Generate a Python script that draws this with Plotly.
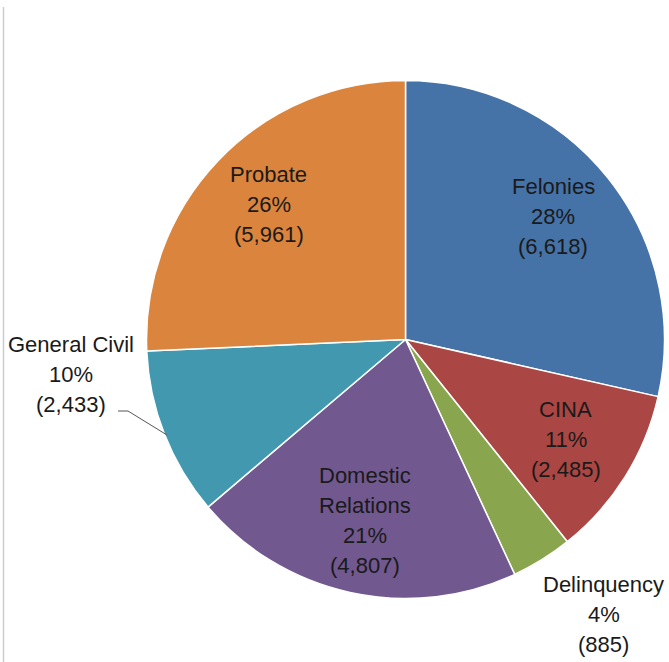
import math
import plotly.graph_objects as go

categories = ["Felonies", "CINA", "Delinquency", "Domestic Relations", "General Civil", "Probate"]
values = [6618, 2485, 885, 4807, 2433, 5961]
percents = [28, 11, 4, 21, 10, 26]
colors = ["#4572A7", "#AA4643", "#89A54E", "#71588F", "#4198AF", "#DB843D"]
label_lines = [["Felonies"], ["CINA"], ["Delinquency"], ["Domestic", "Relations"], ["General Civil"], ["Probate"]]

W, H = 669, 662
cx, cy, R = 405.5, 339.5, 259
LINE = 30

fig = go.Figure(go.Pie(
    labels=categories, values=values, sort=False, direction="clockwise", rotation=0,
    marker=dict(colors=colors, line=dict(color="white", width=1.5)),
    textinfo="none", hoverinfo="label+value+percent", showlegend=False,
    domain=dict(x=[(cx - R) / W, (cx + R) / W], y=[(H - cy - R) / H, (H - cy + R) / H]),
))

total = sum(values)
outside = {"Delinquency": (198, 275), "General Civil": (-335, 35)}
nudge = {"Felonies": -5, "Probate": -4, "Domestic Relations": -4}
cum = 0
for name, lines, pct, v in zip(categories, label_lines, percents, values):
    mid = (cum + v / 2) / total * 2 * math.pi
    cum += v
    if name in outside:
        dx, dy = outside[name]
    else:
        r = 0.73 * R
        dx, dy = r * math.sin(mid), -r * math.cos(mid) + nudge.get(name, 0)
    rows = lines + [f"{pct}%", f"({v:,})"]
    n = len(rows)
    for i, row in enumerate(rows):
        py = cy + dy + (i - (n - 1) / 2) * LINE
        fig.add_annotation(x=(cx + dx) / W, y=1 - py / H, xref="paper", yref="paper",
                           text=row, showarrow=False, xanchor="center", yanchor="middle",
                           font=dict(family="Liberation Sans", size=22, color="#1a1a1a"))

# leader line for General Civil
pts = [(118, 411), (128, 411), (167, 435)]
for (x0, y0), (x1, y1) in zip(pts[:-1], pts[1:]):
    fig.add_shape(type="line", xref="paper", yref="paper",
                  x0=x0 / W, y0=1 - y0 / H, x1=x1 / W, y1=1 - y1 / H,
                  line=dict(color="#555555", width=1))

# left frame edge
fig.add_shape(type="line", xref="paper", yref="paper", x0=3.5 / W, x1=3.5 / W,
              y0=0, y1=1 - 7 / H, line=dict(color="#cccccc", width=1.5))

fig.update_layout(width=W, height=H, margin=dict(l=0, r=0, t=0, b=0),
                  paper_bgcolor="white", plot_bgcolor="white")
fig.write_html("out.html", config={"displayModeBar": False},
               post_script="document.body.style.margin='0';document.body.style.overflow='hidden';")
